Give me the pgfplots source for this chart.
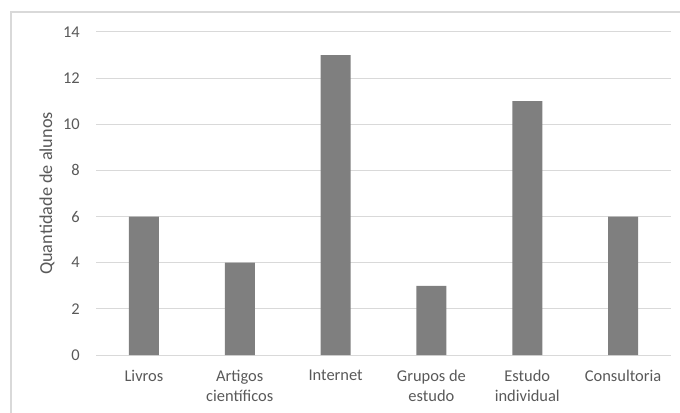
\documentclass[border=0pt]{standalone}
\usepackage{pgfplots}
\pgfplotsset{compat=1.18}
\usepackage{fontspec}
\setmainfont{Carlito}
\definecolor{txt}{HTML}{595959}
\definecolor{gridc}{HTML}{D9D9D9}
\definecolor{barc}{HTML}{7F7F7F}
\begin{document}
\begin{tikzpicture}[x=1bp,y=1bp]
\useasboundingbox (0,0) rectangle (680,412);
% chart frame (top and left edges visible)
\draw[gridc, line width=1.2bp] (11,-10) -- (11,400) -- (700,400);
\begin{axis}[
  at={(96bp,57bp)}, anchor=south west,
  scale only axis, width=575bp, height=323bp,
  xmin=-0.5, xmax=5.5, ymin=0, ymax=14,
  ytick={0,2,...,14},
  xtick={0,...,5},
  xticklabels={Livros, Artigos\\científicos, Internet, Grupos de\\estudo, Estudo\\individual, Consultoria},
  axis line style={draw=none},
  major tick length=0pt,
  ymajorgrids, grid style={gridc, line width=1bp},
  /pgf/number format/assume math mode=true,
  ticklabel style={font=\fontsize{16.5}{20}\selectfont, text=txt},
  yticklabel style={anchor=east, inner sep=0pt, xshift=-16bp},
  xticklabel style={anchor=north, inner sep=0pt, align=center, yshift=-15bp},
  ylabel={Quantidade de alunos},
  ylabel style={at={(axis description cs:-0.0852,0.5)}, anchor=center, font=\fontsize{18.3}{22}\selectfont, text=txt},
  clip=false,
]
\addplot[ybar, bar width=30bp, fill=barc, draw=none] coordinates {
  (0,6) (1,4) (2,13) (3,3) (4,11) (5,6)
};
\end{axis}
\end{tikzpicture}
\end{document}
